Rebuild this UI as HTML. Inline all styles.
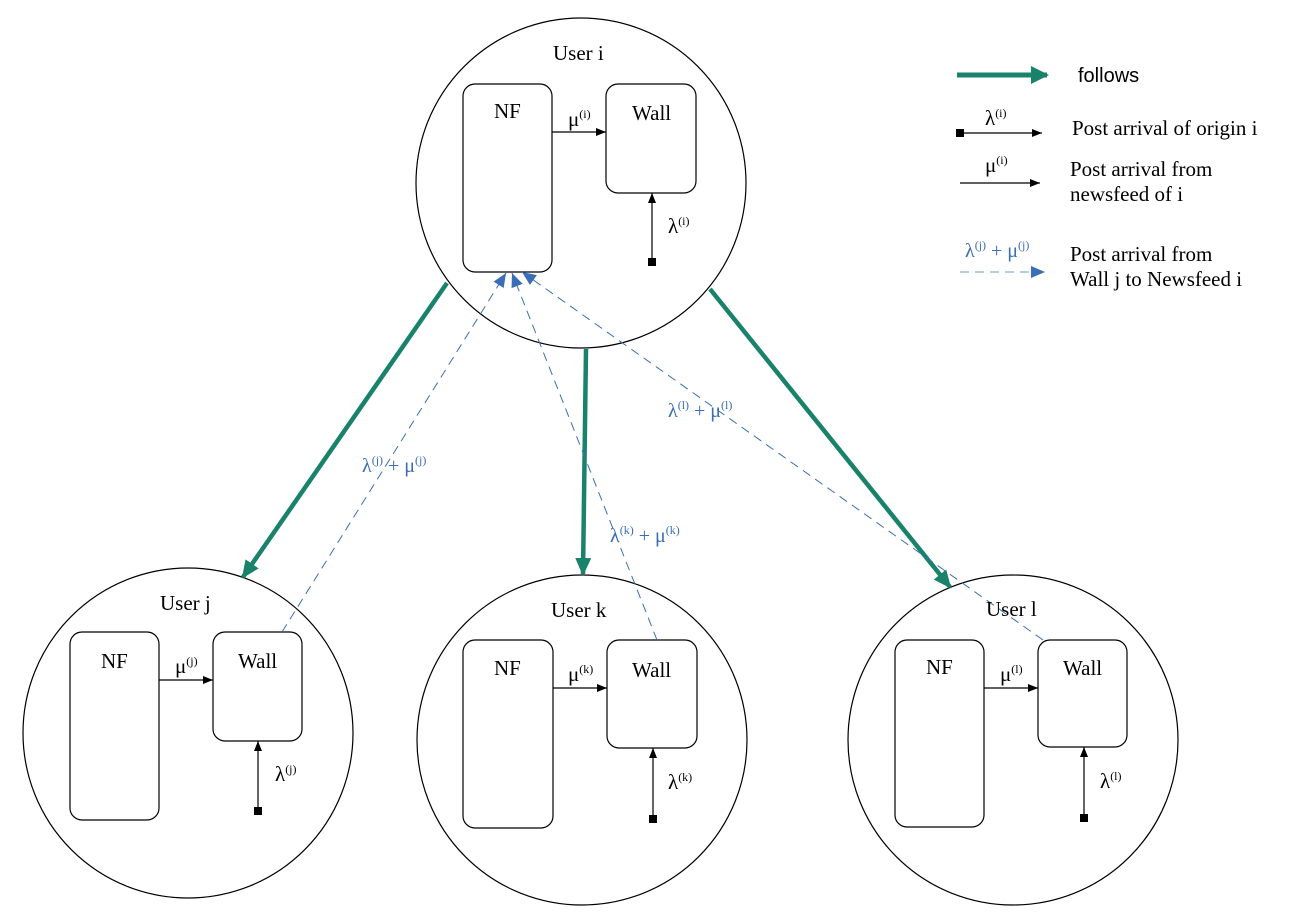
<!DOCTYPE html>
<html><head><meta charset="utf-8"><style>
html,body{margin:0;padding:0;background:#fff;}
svg{display:block;font-family:"Liberation Serif",serif;}
.b{fill:#3a6eb5}
</style></head><body>
<svg width="1289" height="923" viewBox="0 0 1289 923" xmlns="http://www.w3.org/2000/svg">
<defs>
<marker id="ak" markerWidth="10" markerHeight="8" refX="10" refY="4" orient="auto" markerUnits="userSpaceOnUse"><path d="M0,0L10,4L0,8z" fill="#000"/></marker>
<marker id="ab" markerWidth="14" markerHeight="12" refX="14" refY="6" orient="auto" markerUnits="userSpaceOnUse"><path d="M0,0L14,6L0,12z" fill="#3a6eb5"/></marker>
<marker id="ag" markerWidth="18" markerHeight="16" refX="16" refY="8" orient="auto" markerUnits="userSpaceOnUse"><path d="M0,0L18,8L0,16z" fill="#18826a"/></marker>
<marker id="ag2" markerWidth="18" markerHeight="18" refX="16" refY="9" orient="auto" markerUnits="userSpaceOnUse"><path d="M0,0L18,9L0,18z" fill="#18826a"/></marker>
</defs>
<g fill="none" stroke="#000" stroke-width="1.2">
<circle cx="581" cy="183" r="165"/>
<circle cx="188" cy="733" r="165"/>
<circle cx="582" cy="740" r="165"/>
<circle cx="1013" cy="740" r="165"/>
<rect x="463" y="84" width="89" height="188" rx="12"/>
<rect x="606" y="84" width="90" height="109" rx="12"/>
<rect x="70" y="632" width="89" height="188" rx="12"/>
<rect x="213" y="632" width="89" height="109" rx="12"/>
<rect x="463" y="640" width="90" height="188" rx="12"/>
<rect x="607" y="640" width="90" height="108" rx="12"/>
<rect x="895" y="640" width="89" height="187" rx="12"/>
<rect x="1038" y="640" width="89" height="107" rx="12"/>
<line x1="552" y1="132" x2="606" y2="132" marker-end="url(#ak)"/>
<line x1="652" y1="262" x2="652" y2="193" marker-end="url(#ak)"/>
<line x1="159" y1="680" x2="213" y2="680" marker-end="url(#ak)"/>
<line x1="258" y1="811" x2="258" y2="741" marker-end="url(#ak)"/>
<line x1="553" y1="688" x2="607" y2="688" marker-end="url(#ak)"/>
<line x1="653" y1="819" x2="653" y2="748" marker-end="url(#ak)"/>
<line x1="984" y1="688" x2="1038" y2="688" marker-end="url(#ak)"/>
<line x1="1084" y1="818" x2="1084" y2="747" marker-end="url(#ak)"/>
<line x1="960" y1="133" x2="1042" y2="133" marker-end="url(#ak)"/>
<line x1="960" y1="183" x2="1040" y2="183" marker-end="url(#ak)"/>
</g>
<g fill="#000">
<rect x="648" y="258" width="8" height="8"/>
<rect x="254" y="807" width="8" height="8"/>
<rect x="649" y="815" width="8" height="8"/>
<rect x="1080" y="814" width="8" height="8"/>
<rect x="956" y="129" width="8" height="8"/>
</g>
<g stroke="#18826a" stroke-width="4.5" fill="none">
<line x1="447" y1="283" x2="243" y2="577" marker-end="url(#ag)"/>
<line x1="586" y1="349" x2="583" y2="574" marker-end="url(#ag)"/>
<line x1="710" y1="289" x2="950" y2="587" marker-end="url(#ag)"/>
<line x1="957" y1="75" x2="1047" y2="75" stroke-width="5" marker-end="url(#ag2)"/>
</g>
<g stroke="#3a6eb5" stroke-width="1" stroke-dasharray="9,6" fill="none">
<line x1="282" y1="632" x2="506" y2="273" marker-end="url(#ab)"/>
<line x1="657" y1="640" x2="512" y2="273" marker-end="url(#ab)"/>
<line x1="1043" y1="640" x2="522" y2="272" marker-end="url(#ab)"/>
<line x1="960" y1="272" x2="1045" y2="272" stroke="#6f95cc" marker-end="url(#ab)"/>
</g>
<g font-size="21" fill="#000">
<text x="553" y="60">User i</text>
<text x="494" y="118">NF</text>
<text x="632" y="120">Wall</text>
<text x="160" y="610">User j</text>
<text x="101" y="668">NF</text>
<text x="238" y="668">Wall</text>
<text x="551" y="617">User k</text>
<text x="494" y="675">NF</text>
<text x="632" y="677">Wall</text>
<text x="986" y="616">User l</text>
<text x="926" y="674">NF</text>
<text x="1063" y="675">Wall</text>
<text x="568" y="126">μ<tspan font-size="12" dy="-8">(i)</tspan></text>
<text x="668" y="233">λ<tspan font-size="12" dy="-8">(i)</tspan></text>
<text x="175" y="673">μ<tspan font-size="12" dy="-8">(j)</tspan></text>
<text x="275" y="781">λ<tspan font-size="12" dy="-8">(j)</tspan></text>
<text x="568" y="681">μ<tspan font-size="12" dy="-8">(k)</tspan></text>
<text x="668" y="789">λ<tspan font-size="12" dy="-8">(k)</tspan></text>
<text x="1000" y="681">μ<tspan font-size="12" dy="-8">(l)</tspan></text>
<text x="1100" y="788">λ<tspan font-size="12" dy="-8">(l)</tspan></text>
<text x="985" y="125">λ<tspan font-size="12" dy="-8">(i)</tspan></text>
<text x="985" y="172">μ<tspan font-size="12" dy="-8">(i)</tspan></text>
<text x="1072" y="135">Post arrival of origin i</text>
<text x="1070" y="176">Post arrival from</text>
<text x="1070" y="201">newsfeed of i</text>
<text x="1070" y="261">Post arrival from</text>
<text x="1070" y="286">Wall j to Newsfeed i</text>
<text x="1078" y="82" font-family="Liberation Sans, sans-serif" font-size="20">follows</text>
</g>
<g font-size="20" class="b">
<text x="362" y="472">λ<tspan font-size="12" dy="-8">(j)</tspan><tspan dy="8"> + μ</tspan><tspan font-size="12" dy="-8">(j)</tspan></text>
<text x="610" y="542">λ<tspan font-size="12" dy="-8">(k)</tspan><tspan dy="8"> + μ</tspan><tspan font-size="12" dy="-8">(k)</tspan></text>
<text x="668" y="417">λ<tspan font-size="12" dy="-8">(l)</tspan><tspan dy="8"> + μ</tspan><tspan font-size="12" dy="-8">(l)</tspan></text>
<text x="965" y="257">λ<tspan font-size="12" dy="-8">(j)</tspan><tspan dy="8"> + μ</tspan><tspan font-size="12" dy="-8">(j)</tspan></text>
</g>
</svg>
</body></html>
